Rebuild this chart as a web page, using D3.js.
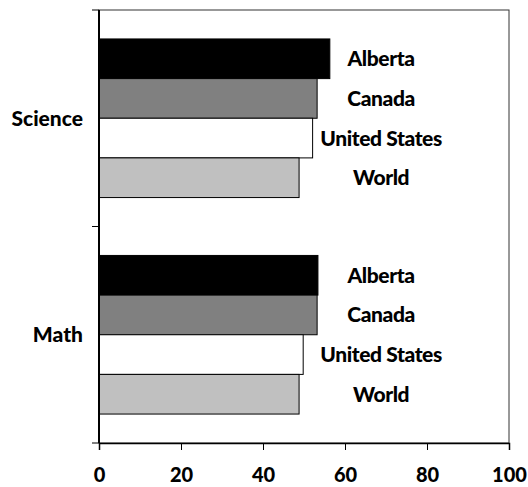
<!DOCTYPE html>
<html>
<head>
<meta charset="utf-8">
<script src="https://cdn.jsdelivr.net/npm/d3@7/dist/d3.min.js"></script>
<style>
  html, body { margin: 0; padding: 0; background: #fff; }
  svg { display: block; }
  text { font-family: Lato, "Open Sans", sans-serif; font-weight: 900; fill: #000; }
</style>
</head>
<body>
<script>
// Subjects (top to bottom) and the regions compared within each one
const subjects = ["Science", "Math"];
const regions = ["Alberta", "Canada", "United States", "World"];

// Scores per region, in subject order
const alberta = [56.3, 53.4];
const canada = [53.2, 53.2];
const unitedStates = [52.1, 49.8];
const world = [48.8, 48.8];

const xTicks = [0, 20, 40, 60, 80, 100];
const regionColors = ["#000000", "#808080", "#ffffff", "#c0c0c0"];

const seriesValues = [alberta, canada, unitedStates, world];

const width = 528, height = 487;
const margin = { top: 10, right: 19, bottom: 44, left: 99 };
const fontSize = 21;

const svg = d3.select("body").append("svg")
  .attr("width", width)
  .attr("height", height);

const x = d3.scaleLinear()
  .domain([0, 100])
  .range([margin.left, width - margin.right]);

const y = d3.scaleBand()
  .domain(subjects)
  .range([margin.top, height - margin.bottom])
  .padding(0);

const yInner = d3.scaleBand()
  .domain(regions)
  .range([0, y.bandwidth()])
  .paddingInner(0)
  .paddingOuter(0.73);

// Plot area frame
svg.append("rect")
  .attr("x", x(0))
  .attr("y", margin.top)
  .attr("width", x(100) - x(0))
  .attr("height", height - margin.bottom - margin.top)
  .attr("fill", "none")
  .attr("stroke", "#333")
  .attr("stroke-width", 1);

// Bars and region labels
const rows = [];
subjects.forEach((s, si) => {
  regions.forEach((r, ri) => {
    rows.push({ subject: s, region: r, ri, value: seriesValues[ri][si] });
  });
});

const g = svg.append("g");

g.selectAll("rect.bar")
  .data(rows)
  .join("rect")
  .attr("class", "bar")
  .attr("x", x(0))
  .attr("y", d => y(d.subject) + yInner(d.region))
  .attr("width", d => x(d.value) - x(0))
  .attr("height", yInner.bandwidth())
  .attr("fill", d => regionColors[d.ri])
  .attr("stroke", "#000")
  .attr("stroke-width", 1);

g.selectAll("text.region")
  .data(rows)
  .join("text")
  .attr("class", "region")
  .attr("x", x(68.8))
  .attr("y", d => y(d.subject) + yInner(d.region) + yInner.bandwidth() / 2)
  .attr("dy", "0.36em")
  .attr("text-anchor", "middle")
  .attr("font-size", fontSize)
  .style("letter-spacing", "-0.4px")
  .text(d => d.region);

// X axis
const xAxis = svg.append("g")
  .attr("transform", `translate(0,${height - margin.bottom})`)
  .call(d3.axisBottom(x).tickValues(xTicks).tickSize(7).tickPadding(18).tickFormat(d3.format("d")));
xAxis.select(".domain").attr("stroke", "#000").attr("stroke-width", 1.5);
xAxis.selectAll(".tick line").attr("stroke", "#000");
xAxis.selectAll(".tick text")
  .attr("font-size", 20)
  .attr("font-family", "Lato, sans-serif")
  .attr("font-weight", 900);

// Y axis: ticks on band edges, labels at band centres
const yAxisG = svg.append("g");
yAxisG.append("line")
  .attr("x1", x(0)).attr("x2", x(0))
  .attr("y1", margin.top).attr("y2", height - margin.bottom)
  .attr("stroke", "#000").attr("stroke-width", 2);

const edges = subjects.map(s => y(s)).concat([y(subjects[subjects.length - 1]) + y.bandwidth()]);
yAxisG.selectAll("line.edge")
  .data(edges)
  .join("line")
  .attr("class", "edge")
  .attr("x1", x(0) - 7).attr("x2", x(0))
  .attr("y1", d => d).attr("y2", d => d)
  .attr("stroke", "#000");

yAxisG.selectAll("text.subject")
  .data(subjects)
  .join("text")
  .attr("class", "subject")
  .attr("x", 83)
  .attr("y", d => y(d) + y.bandwidth() / 2)
  .attr("dy", "0.36em")
  .attr("text-anchor", "end")
  .attr("font-size", fontSize)
  .text(d => d);
</script>
</body>
</html>
